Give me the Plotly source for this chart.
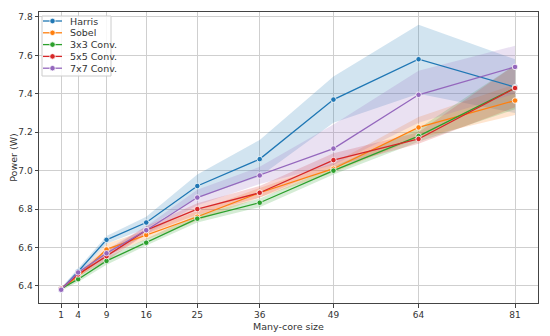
import plotly.graph_objects as go

sizes = [1, 4, 9, 16, 25, 36, 49, 64, 81]
tick_vals = [1, 4, 9, 16, 25, 36, 49, 64, 81]
y_ticks = [6.4, 6.6, 6.8, 7.0, 7.2, 7.4, 7.6, 7.8]

names = ["Harris", "Sobel", "3x3 Conv.", "5x5 Conv.", "7x7 Conv."]
colors = ["#1f77b4", "#ff7f0e", "#2ca02c", "#d62728", "#9467bd"]
fills = ["rgba(31,119,180,0.2)", "rgba(255,127,14,0.2)", "rgba(44,160,44,0.2)",
         "rgba(214,39,40,0.2)", "rgba(148,103,189,0.2)"]

harris = [6.38, 6.475, 6.64, 6.73, 6.92, 7.06, 7.37, 7.58, 7.435]
harris_lo = [6.375, 6.46, 6.62, 6.70, 6.86, 6.97, 7.25, 7.40, 7.30]
harris_hi = [6.39, 6.49, 6.66, 6.76, 6.98, 7.16, 7.49, 7.76, 7.58]

sobel = [6.385, 6.45, 6.59, 6.665, 6.76, 6.885, 7.01, 7.225, 7.365]
sobel_lo = [6.375, 6.44, 6.56, 6.64, 6.74, 6.86, 6.99, 7.17, 7.29]
sobel_hi = [6.39, 6.46, 6.62, 6.69, 6.79, 6.91, 7.04, 7.28, 7.45]

conv3 = [6.385, 6.435, 6.53, 6.625, 6.75, 6.833, 7.0, 7.18, 7.43]
conv3_lo = [6.375, 6.42, 6.51, 6.61, 6.73, 6.81, 6.98, 7.15, 7.32]
conv3_hi = [6.39, 6.45, 6.55, 6.645, 6.77, 6.855, 7.02, 7.22, 7.55]

conv5 = [6.385, 6.46, 6.555, 6.69, 6.80, 6.885, 7.055, 7.165, 7.43]
conv5_lo = [6.375, 6.45, 6.53, 6.67, 6.77, 6.86, 7.02, 7.14, 7.33]
conv5_hi = [6.39, 6.47, 6.58, 6.71, 6.83, 6.92, 7.09, 7.20, 7.55]

conv7 = [6.38, 6.47, 6.57, 6.69, 6.86, 6.975, 7.115, 7.395, 7.54]
conv7_lo = [6.375, 6.46, 6.55, 6.67, 6.82, 6.93, 7.03, 7.25, 7.40]
conv7_hi = [6.39, 6.48, 6.59, 6.71, 6.90, 7.02, 7.24, 7.52, 7.65]

series = [
    (harris, harris_lo, harris_hi),
    (sobel, sobel_lo, sobel_hi),
    (conv3, conv3_lo, conv3_hi),
    (conv5, conv5_lo, conv5_hi),
    (conv7, conv7_lo, conv7_hi),
]

# the page body adds an 8px margin, so the figure is drawn 8px in from the window corner
W, H = 542, 328
ML, MR, MT, MB = 31, 12, 4, 33
PW, PH = W - ML - MR, H - MT - MB

fig = go.Figure()
for i, (vals, lo, hi) in enumerate(series):
    fig.add_trace(go.Scatter(
        x=sizes + sizes[::-1], y=hi + lo[::-1], fill="toself",
        fillcolor=fills[i], line=dict(width=0), mode="lines",
        hoverinfo="skip", showlegend=False))
for i, (vals, lo, hi) in enumerate(series):
    fig.add_trace(go.Scatter(
        x=sizes, y=vals, name=names[i], mode="lines+markers", showlegend=False,
        line=dict(color=colors[i], width=1.3),
        marker=dict(color=colors[i], size=5.5, line=dict(color="white", width=0.8))))

# legend drawn on an overlay axis measured in pixels from the plot's top-left corner
leg_x0, leg_x1, leg_y0, leg_y1 = 3, 72, 4, 64
row0, row_step = 9, 11.8
sample_x = [4, 13.5, 23]
text_x = 29
fig.add_trace(go.Scatter(
    x=[leg_x0, leg_x1, leg_x1, leg_x0, leg_x0], y=[leg_y0, leg_y0, leg_y1, leg_y1, leg_y0],
    xaxis="x2", yaxis="y2", mode="lines", fill="toself",
    fillcolor="rgba(255,255,255,0.85)", line=dict(color="#cccccc", width=1),
    showlegend=False, hoverinfo="skip"))
for i, name in enumerate(names):
    yy = row0 + row_step * i
    fig.add_trace(go.Scatter(
        x=sample_x, y=[yy] * 3, xaxis="x2", yaxis="y2", mode="lines", showlegend=False,
        hoverinfo="skip", line=dict(color=colors[i], width=1.3)))
    fig.add_trace(go.Scatter(
        x=[sample_x[1]], y=[yy], xaxis="x2", yaxis="y2", mode="markers", showlegend=False,
        hoverinfo="skip",
        marker=dict(color=colors[i], size=5.5, line=dict(color="white", width=0.8))))
    fig.add_annotation(x=text_x, y=yy, xref="x2", yref="y2", text=name, showarrow=False,
                       xanchor="left", yanchor="middle",
                       font=dict(size=9.5, color="#333333"))

font = "DejaVu Sans, sans-serif"
fig.update_layout(
    width=W, height=H,
    margin=dict(l=ML, r=MR, t=MT, b=MB, autoexpand=False),
    paper_bgcolor="white", plot_bgcolor="white",
    font=dict(family=font, size=9, color="#333333"),
    showlegend=False,
    xaxis=dict(
        range=[-2.9, 85.05], tickvals=tick_vals, ticktext=[str(v) for v in tick_vals],
        showgrid=True, gridcolor="#cfcfcf", gridwidth=1, zeroline=False,
        showline=True, linecolor="#444444", linewidth=1, mirror=True,
        ticks="outside", ticklen=3.5, tickcolor="#444444", automargin=False,
        title=dict(text="Many-core size", font=dict(size=9.5), standoff=4),
    ),
    yaxis=dict(
        range=[6.311, 7.826], tickvals=y_ticks, ticktext=[f"{v:.1f}" for v in y_ticks],
        showgrid=True, gridcolor="#cfcfcf", gridwidth=1, zeroline=False,
        showline=True, linecolor="#444444", linewidth=1, mirror=True,
        ticks="outside", ticklen=3.5, tickcolor="#444444", automargin=False,
        title=dict(text="Power (W)", font=dict(size=9.5), standoff=4),
    ),
    xaxis2=dict(overlaying="x", range=[0, PW], visible=False, fixedrange=True),
    yaxis2=dict(overlaying="y", range=[PH, 0], visible=False, fixedrange=True),
)
fig.write_html("out.html")
